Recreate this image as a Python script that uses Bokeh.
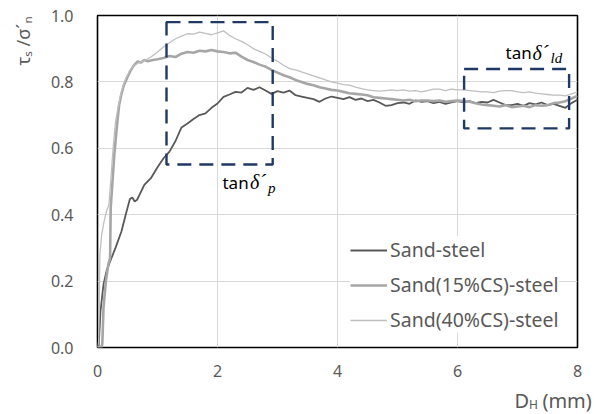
from bokeh.plotting import figure
from bokeh.models import (ColumnDataSource, Range1d, FixedTicker, NumeralTickFormatter,
                          Label, Legend, LegendItem)
from bokeh.embed import file_html
from bokeh.resources import INLINE
import math

# ---------------- data ----------------
tail_x = [round(1.6 + 0.1 * i, 1) for i in range(65)]  # 1.6 .. 8.0

steel_x = [0, 0.02, 0.05, 0.1, 0.15, 0.2, 0.3, 0.4, 0.47, 0.54, 0.58, 0.62, 0.66, 0.7,
           0.78, 0.89, 1.0, 1.1, 1.2, 1.3, 1.4, 1.5] + tail_x
steel_y = [0, 0.005, 0.11, 0.19, 0.23, 0.255, 0.30, 0.35, 0.40, 0.447, 0.452, 0.44, 0.445, 0.46,
           0.49, 0.51, 0.543, 0.57, 0.59, 0.622, 0.663, 0.675,
           0.688, 0.70, 0.705, 0.722, 0.735, 0.755, 0.762, 0.77, 0.768, 0.782,
           0.776, 0.784, 0.774, 0.764, 0.772, 0.768, 0.774, 0.76, 0.756, 0.752,
           0.748, 0.74, 0.75, 0.756, 0.752, 0.748, 0.754, 0.746, 0.75, 0.742,
           0.746, 0.738, 0.728, 0.73, 0.736, 0.738, 0.734, 0.744, 0.74, 0.742,
           0.736, 0.74, 0.734, 0.738, 0.742, 0.738, 0.742, 0.736, 0.74, 0.738,
           0.746, 0.738, 0.73, 0.73, 0.734, 0.728, 0.736, 0.732, 0.738, 0.73,
           0.734, 0.728, 0.722, 0.736, 0.746]

cs15_x = [0, 0.06, 0.08, 0.1, 0.14, 0.18, 0.21, 0.22, 0.25, 0.28, 0.32, 0.36, 0.4, 0.44,
          0.5, 0.55, 0.6, 0.67, 0.72, 0.78, 0.84, 0.9, 1.0, 1.1, 1.2, 1.3, 1.4, 1.5] + tail_x
cs15_y = [0, 0, 0.01, 0.12, 0.2, 0.25, 0.27, 0.42, 0.5, 0.58, 0.66, 0.73, 0.765, 0.79,
          0.815, 0.834, 0.848, 0.862, 0.858, 0.866, 0.862, 0.865, 0.868, 0.872, 0.878, 0.875, 0.885, 0.89,
          0.888, 0.894, 0.892, 0.896, 0.892, 0.89, 0.886, 0.888, 0.876, 0.866,
          0.86, 0.852, 0.846, 0.836, 0.828, 0.82, 0.814, 0.806, 0.8, 0.794,
          0.79, 0.784, 0.78, 0.776, 0.774, 0.77, 0.766, 0.764, 0.762, 0.76,
          0.754, 0.752, 0.75, 0.748, 0.746, 0.744, 0.746, 0.742, 0.744, 0.744,
          0.742, 0.744, 0.74, 0.742, 0.744, 0.742, 0.74, 0.736, 0.732, 0.73,
          0.728, 0.726, 0.73, 0.724, 0.726, 0.728, 0.724, 0.73, 0.728, 0.73,
          0.736, 0.738, 0.742, 0.75, 0.758]

cs40_x = [0, 0.02, 0.04, 0.07, 0.11, 0.15, 0.19, 0.22, 0.26, 0.3, 0.35, 0.39, 0.43, 0.47,
          0.54, 0.61, 0.67, 0.72, 0.8, 0.89, 1.0, 1.1, 1.2, 1.3, 1.4, 1.5] + tail_x
cs40_y = [0, 0.02, 0.28, 0.34, 0.38, 0.41, 0.43, 0.5, 0.6, 0.68, 0.73, 0.764, 0.79, 0.81,
          0.835, 0.85, 0.856, 0.86, 0.866, 0.875, 0.89, 0.905, 0.918, 0.93, 0.938, 0.945,
          0.944, 0.95, 0.946, 0.942, 0.948, 0.954, 0.94, 0.93, 0.922, 0.912,
          0.9, 0.892, 0.884, 0.872, 0.862, 0.85, 0.84, 0.836, 0.83, 0.824,
          0.818, 0.812, 0.806, 0.8, 0.796, 0.792, 0.79, 0.784, 0.78, 0.776,
          0.774, 0.772, 0.774, 0.776, 0.774, 0.776, 0.772, 0.774, 0.77, 0.774,
          0.778, 0.778, 0.774, 0.778, 0.776, 0.776, 0.774, 0.772, 0.77, 0.77,
          0.768, 0.772, 0.774, 0.774, 0.77, 0.768, 0.77, 0.766, 0.764, 0.762,
          0.76, 0.76, 0.758, 0.764, 0.77]

series_names = ["Sand-steel", "Sand(15%CS)-steel", "Sand(40%CS)-steel"]
x_ticks = [0, 2, 4, 6, 8]
y_ticks = [0.0, 0.2, 0.4, 0.6, 0.8, 1.0]

# highlighted regions (data coordinates)
peak_box = dict(left=1.15, right=2.92, bottom=0.551, top=0.98)
ld_box = dict(left=6.11, right=7.86, bottom=0.66, top=0.839)

# ---------------- figure ----------------
FONT = "Noto Sans"
GREY_TXT = "#595959"

p = figure(width=599, height=414, output_backend="svg", toolbar_location=None,
           x_range=Range1d(0, 8), y_range=Range1d(0, 1),
           min_border_left=97, min_border_right=22, min_border_top=15, min_border_bottom=67)
p.background_fill_color = "white"
p.border_fill_color = "white"
p.outline_line_color = "black"
p.outline_line_width = 1.6

p.xaxis.ticker = FixedTicker(ticks=x_ticks)
p.yaxis.ticker = FixedTicker(ticks=y_ticks)
p.yaxis.formatter = NumeralTickFormatter(format="0.0")
for ax in (p.xaxis, p.yaxis):
    ax.axis_line_color = None
    ax.major_tick_line_color = None
    ax.minor_tick_line_color = None
    ax.major_label_text_font = FONT
    ax.major_label_text_font_size = "16px"
    ax.major_label_text_color = GREY_TXT
p.yaxis.major_label_standoff = 18
p.xaxis.major_label_standoff = 11

p.grid.grid_line_color = "#d9d9d9"
p.grid.grid_line_width = 1

src_steel = ColumnDataSource(dict(x=steel_x, y=steel_y))
src_15 = ColumnDataSource(dict(x=cs15_x, y=cs15_y))
src_40 = ColumnDataSource(dict(x=cs40_x, y=cs40_y))

r1 = p.line("x", "y", source=src_steel, line_color="#595959", line_width=1.8)
r2 = p.line("x", "y", source=src_15, line_color="#a6a6a6", line_width=2.6)
r3 = p.line("x", "y", source=src_40, line_color="#bfbfbf", line_width=1.3)

for b in (peak_box, ld_box):
    p.quad(left=[b["left"]], right=[b["right"]], bottom=[b["bottom"]], top=[b["top"]],
           fill_alpha=0, line_color="#1f3864", line_width=2.4, line_dash="14 8")

legend = Legend(items=[LegendItem(label=n, renderers=[r]) for n, r in zip(series_names, [r1, r2, r3])],
                location=(253, 14), orientation="vertical",
                background_fill_color="white", background_fill_alpha=1.0,
                border_line_color=None, padding=14, spacing=8,
                glyph_width=37, glyph_height=22, label_height=22, label_standoff=3,
                label_text_font=FONT, label_text_font_size="19.5px", label_text_color=GREY_TXT,
                margin=0)
p.add_layout(legend)


def lab(x, y, t, size, font=FONT, color=GREY_TXT, style="normal", angle=0.0, place="center"):
    p.add_layout(Label(x=x, y=y, text=t, text_font=font, text_font_size=size,
                       text_color=color, text_font_style=style, angle=angle,
                       text_align="left", text_baseline="alphabetic"), place)


# y-axis title  tau_s / sigma'_n  (rotated, drawn in the left side panel)
lab(-1.24, 0.8494, "τₛ /σ´ₙ", "18px", angle=math.pi / 2, place="left")

# x-axis title  D_H (mm)  (bottom panel; subscript H kept in the empty right panel)
lab(6.95, -0.1596, "D\u2002\u2009(mm)", "20px", place="below")
lab(7.192, -0.1717, "H", "12px", place="right")

# box annotations
lab(2.083, 0.497, "tan", "17px", color="black")
lab(2.542, 0.497, "δ´", "20px", font="Liberation Serif", color="black", style="italic")
lab(2.84, 0.4803, "p", "15px", font="Liberation Serif", color="black", style="italic")

lab(6.8, 0.8876, "tan", "17px", color="black")
lab(7.25, 0.8876, "δ´", "20px", font="Liberation Serif", color="black", style="italic")
lab(7.55, 0.8725, "ld", "15px", font="Liberation Serif", color="black", style="italic")

open("out.html", "w").write(file_html(p, INLINE))
